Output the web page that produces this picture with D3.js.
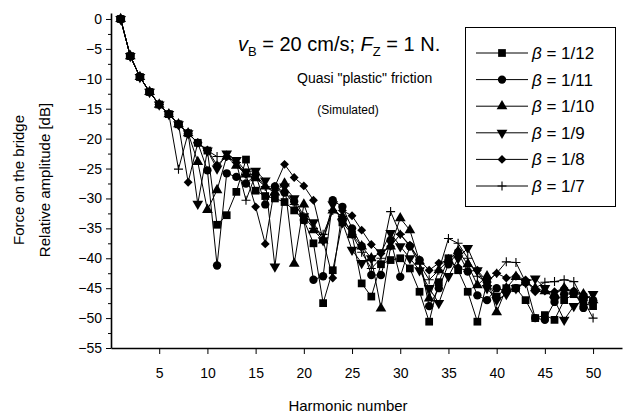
<!DOCTYPE html>
<html>
<head>
<meta charset="utf-8">
<script src="https://cdn.jsdelivr.net/npm/d3@7"></script>
<style>
  body { margin: 0; background: #fff; }
  svg { font-family: "Liberation Sans", Arial, sans-serif; }
</style>
</head>
<body>
<div id="chart"></div>
<script>
// Harmonic numbers 1..50
const harmonics = d3.range(1, 51);

// Relative amplitude [dB] per beta
const beta12 = [0, -6.2, -9.7, -12.2, -14.3, -15.9, -17.6, -19.1, -20.7, -22, -34.4, -32.8, -28.9, -23.5, -28.7, -29.6, -30, -30.6, -32, -33.6, -37.5, -47.5, -42, -34, -36, -44.2, -46.4, -41, -40.3, -40, -41.7, -45.6, -50.6, -44, -40, -42, -45.6, -50.6, -44, -46.4, -45, -45, -47, -50, -49.5, -50.3, -47, -46, -47.5, -48];
const beta11 = [0, -6.2, -9.7, -12.2, -14.3, -15.9, -17.6, -19.1, -20.7, -25.3, -41.2, -25.8, -26.4, -27.5, -26, -31, -28, -29, -30.5, -33.6, -43.6, -43, -30.3, -31.4, -35, -38, -42.8, -42.8, -37, -43.1, -38, -40.3, -48, -45, -41, -39, -42.2, -46.2, -47, -45, -45.5, -45, -44, -50, -50.3, -47.3, -46, -45.6, -48.3, -47];
const beta10 = [0, -6.2, -9.7, -12.2, -14.3, -15.9, -17.6, -19.1, -23.9, -31.9, -28.6, -23, -24.5, -26, -26.6, -28, -29, -27.5, -40.9, -31, -35.3, -37, -32, -33, -36, -38, -40, -48.4, -38, -33.3, -35.3, -40.5, -46.7, -42, -40.3, -38.8, -41, -44.5, -43, -49, -45, -43.1, -44, -45, -45.5, -46, -45, -45.6, -46, -47];
const beta9 = [0, -6.2, -9.7, -12.2, -14.3, -15.9, -17.6, -19.1, -30.9, -22, -25, -22.5, -23.6, -25.5, -25.4, -27, -41.4, -28, -30, -33, -34, -37, -31, -34, -38.6, -40.8, -40, -39, -35.8, -38, -40, -42, -45, -47.5, -43, -40, -38.3, -42, -45, -47, -46, -45, -44, -43.4, -45, -47, -50.3, -48, -47, -46];
const beta8 = [0, -6.2, -9.7, -12.2, -14.3, -15.9, -17.6, -27.3, -20.7, -21.9, -24.4, -23, -24, -26, -31.4, -37.6, -28, -24.3, -26.5, -27.9, -30.3, -37, -43.3, -32, -32.9, -35.3, -37.7, -39.2, -38, -36, -37.8, -40.3, -42, -40.8, -40.3, -41.5, -42.2, -42, -43.9, -42.5, -43.3, -43, -43.6, -45.6, -45.5, -45.6, -45, -45.6, -46, -47];
const beta7 = [0, -6.2, -9.7, -12.2, -14.3, -15.9, -25.1, -19.1, -20.7, -22, -23, -23, -24, -30.3, -26, -28, -28.6, -28.9, -31, -33, -35, -36, -32, -33, -36, -39, -41.7, -40, -32.2, -36, -38, -41, -43.6, -42, -36.7, -37.5, -40, -43, -44, -42.5, -40.6, -40.7, -44, -45, -44, -43.9, -43.6, -43.9, -47, -50];

const seriesNames = ["1/12", "1/11", "1/10", "1/9", "1/8", "1/7"];
const seriesValues = [beta12, beta11, beta10, beta9, beta8, beta7];
const markerKinds = ["square", "circle", "triangle", "triangleDown", "diamond", "plus"];

const xTicks = [5, 10, 15, 20, 25, 30, 35, 40, 45, 50];
const yTicks = [0, -5, -10, -15, -20, -25, -30, -35, -40, -45, -50, -55];

const width = 643;
const height = 414;

const svg = d3.select("#chart")
    .append("svg")
    .attr("width", width)
    .attr("height", height);

const x = d3.scaleLinear().domain([0, 53]).range([111, 622]);
const y = d3.scaleLinear().domain([-55, 1]).range([348, 13]);

// marker path for each kind
function markerPath(kind) {
    if (kind === "square") return d3.symbol(d3.symbolSquare, 60)();
    if (kind === "circle") return d3.symbol(d3.symbolCircle, 55)();
    if (kind === "triangle") return d3.symbol(d3.symbolTriangle, 50)();
    if (kind === "triangleDown") return d3.symbol(d3.symbolTriangle, 50)();
    if (kind === "diamond") return d3.symbol(d3.symbolDiamond2, 50)();
    return "M-4.5,0H4.5M0,-4.5V4.5";
}

function drawMarker(g, kind) {
    const p = g.append("path").attr("d", markerPath(kind));
    if (kind === "plus") {
        p.attr("fill", "none").attr("stroke", "#000").attr("stroke-width", 1.1);
    } else {
        p.attr("fill", "#000");
    }
    if (kind === "triangleDown") p.attr("transform", "rotate(180)");
    return p;
}

// Axes
const yAxis = d3.axisLeft(y).tickValues(yTicks).tickSize(5).tickSizeOuter(0).tickPadding(4);
const yMinor = d3.axisLeft(y).tickValues(d3.range(-52.5, 0, 5)).tickSize(3).tickFormat("").tickSizeOuter(0);
const xAxis = d3.axisBottom(x).tickValues(xTicks).tickSize(6).tickSizeOuter(0).tickPadding(14);

svg.append("g").attr("transform", "translate(111,0)").call(yMinor)
    .call(g => g.select(".domain").remove());
const gy = svg.append("g").attr("transform", "translate(111,0)").call(yAxis);
const gx = svg.append("g").attr("transform", "translate(0,348)").call(xAxis);

[gx, gy].forEach(g => {
    g.select(".domain").attr("stroke-width", 1.6);
    g.selectAll("text").attr("font-size", 14).attr("fill", "#000")
        .attr("font-family", "Liberation Sans, Arial, sans-serif");
});
svg.selectAll(".tick line").attr("stroke", "#000");

// Axis titles
svg.append("text")
    .attr("x", 348).attr("y", 411)
    .attr("text-anchor", "middle")
    .attr("font-size", 15)
    .text("Harmonic number");

const yTitle = svg.append("text")
    .attr("transform", "translate(0,180) rotate(-90)")
    .attr("text-anchor", "middle")
    .attr("font-size", 15);
yTitle.append("tspan").attr("x", 0).attr("y", 24).text("Force on the bridge");
yTitle.append("tspan").attr("x", 0).attr("y", 50).text("Relative amplitude [dB]");

// Series
seriesValues.forEach((vals, i) => {
    const pts = harmonics.map((h, j) => [h, vals[j]]);
    svg.append("path")
        .datum(pts)
        .attr("fill", "none")
        .attr("stroke", "#000")
        .attr("stroke-width", 1)
        .attr("d", d3.line().x(d => x(d[0])).y(d => y(d[1])));
    const marks = svg.append("g").selectAll("g")
        .data(pts)
        .enter()
        .append("g")
        .attr("transform", d => `translate(${x(d[0])},${y(d[1])})`);
    marks.each(function() { drawMarker(d3.select(this), markerKinds[i]); });
});

// Annotation
const t1 = svg.append("text").attr("x", 238).attr("y", 51).attr("font-size", 20);
t1.append("tspan").attr("font-style", "italic").text("v");
t1.append("tspan").attr("font-size", 13).attr("dy", 5).text("B");
t1.append("tspan").attr("dy", -5).text(" = 20 cm/s; ");
t1.append("tspan").attr("font-style", "italic").text("F");
t1.append("tspan").attr("font-size", 13).attr("dy", 5).text("Z");
t1.append("tspan").attr("dy", -5).text(" = 1 N.");

svg.append("text").attr("x", 297).attr("y", 83)
    .attr("font-size", 14)
    .text("Quasi \"plastic\" friction");
svg.append("text").attr("x", 348).attr("y", 114)
    .attr("text-anchor", "middle").attr("font-size", 12)
    .text("(Simulated)");

// Legend
const legend = svg.append("g");
legend.append("rect")
    .attr("x", 465.5).attr("y", 27.5)
    .attr("width", 150).attr("height", 179)
    .attr("fill", "#fff").attr("stroke", "#000").attr("stroke-width", 1);

seriesNames.forEach((name, i) => {
    const ly = 53 + i * 26.6;
    legend.append("line")
        .attr("x1", 476).attr("x2", 528)
        .attr("y1", ly).attr("y2", ly)
        .attr("stroke", "#000").attr("stroke-width", 1);
    const mg = legend.append("g").attr("transform", `translate(502,${ly})`);
    drawMarker(mg, markerKinds[i]);
    const lt = legend.append("text").attr("x", 532).attr("y", ly + 6).attr("font-size", 17);
    lt.append("tspan").attr("font-style", "italic").text("β");
    lt.append("tspan").text(" = " + name);
});
</script>
</body>
</html>
